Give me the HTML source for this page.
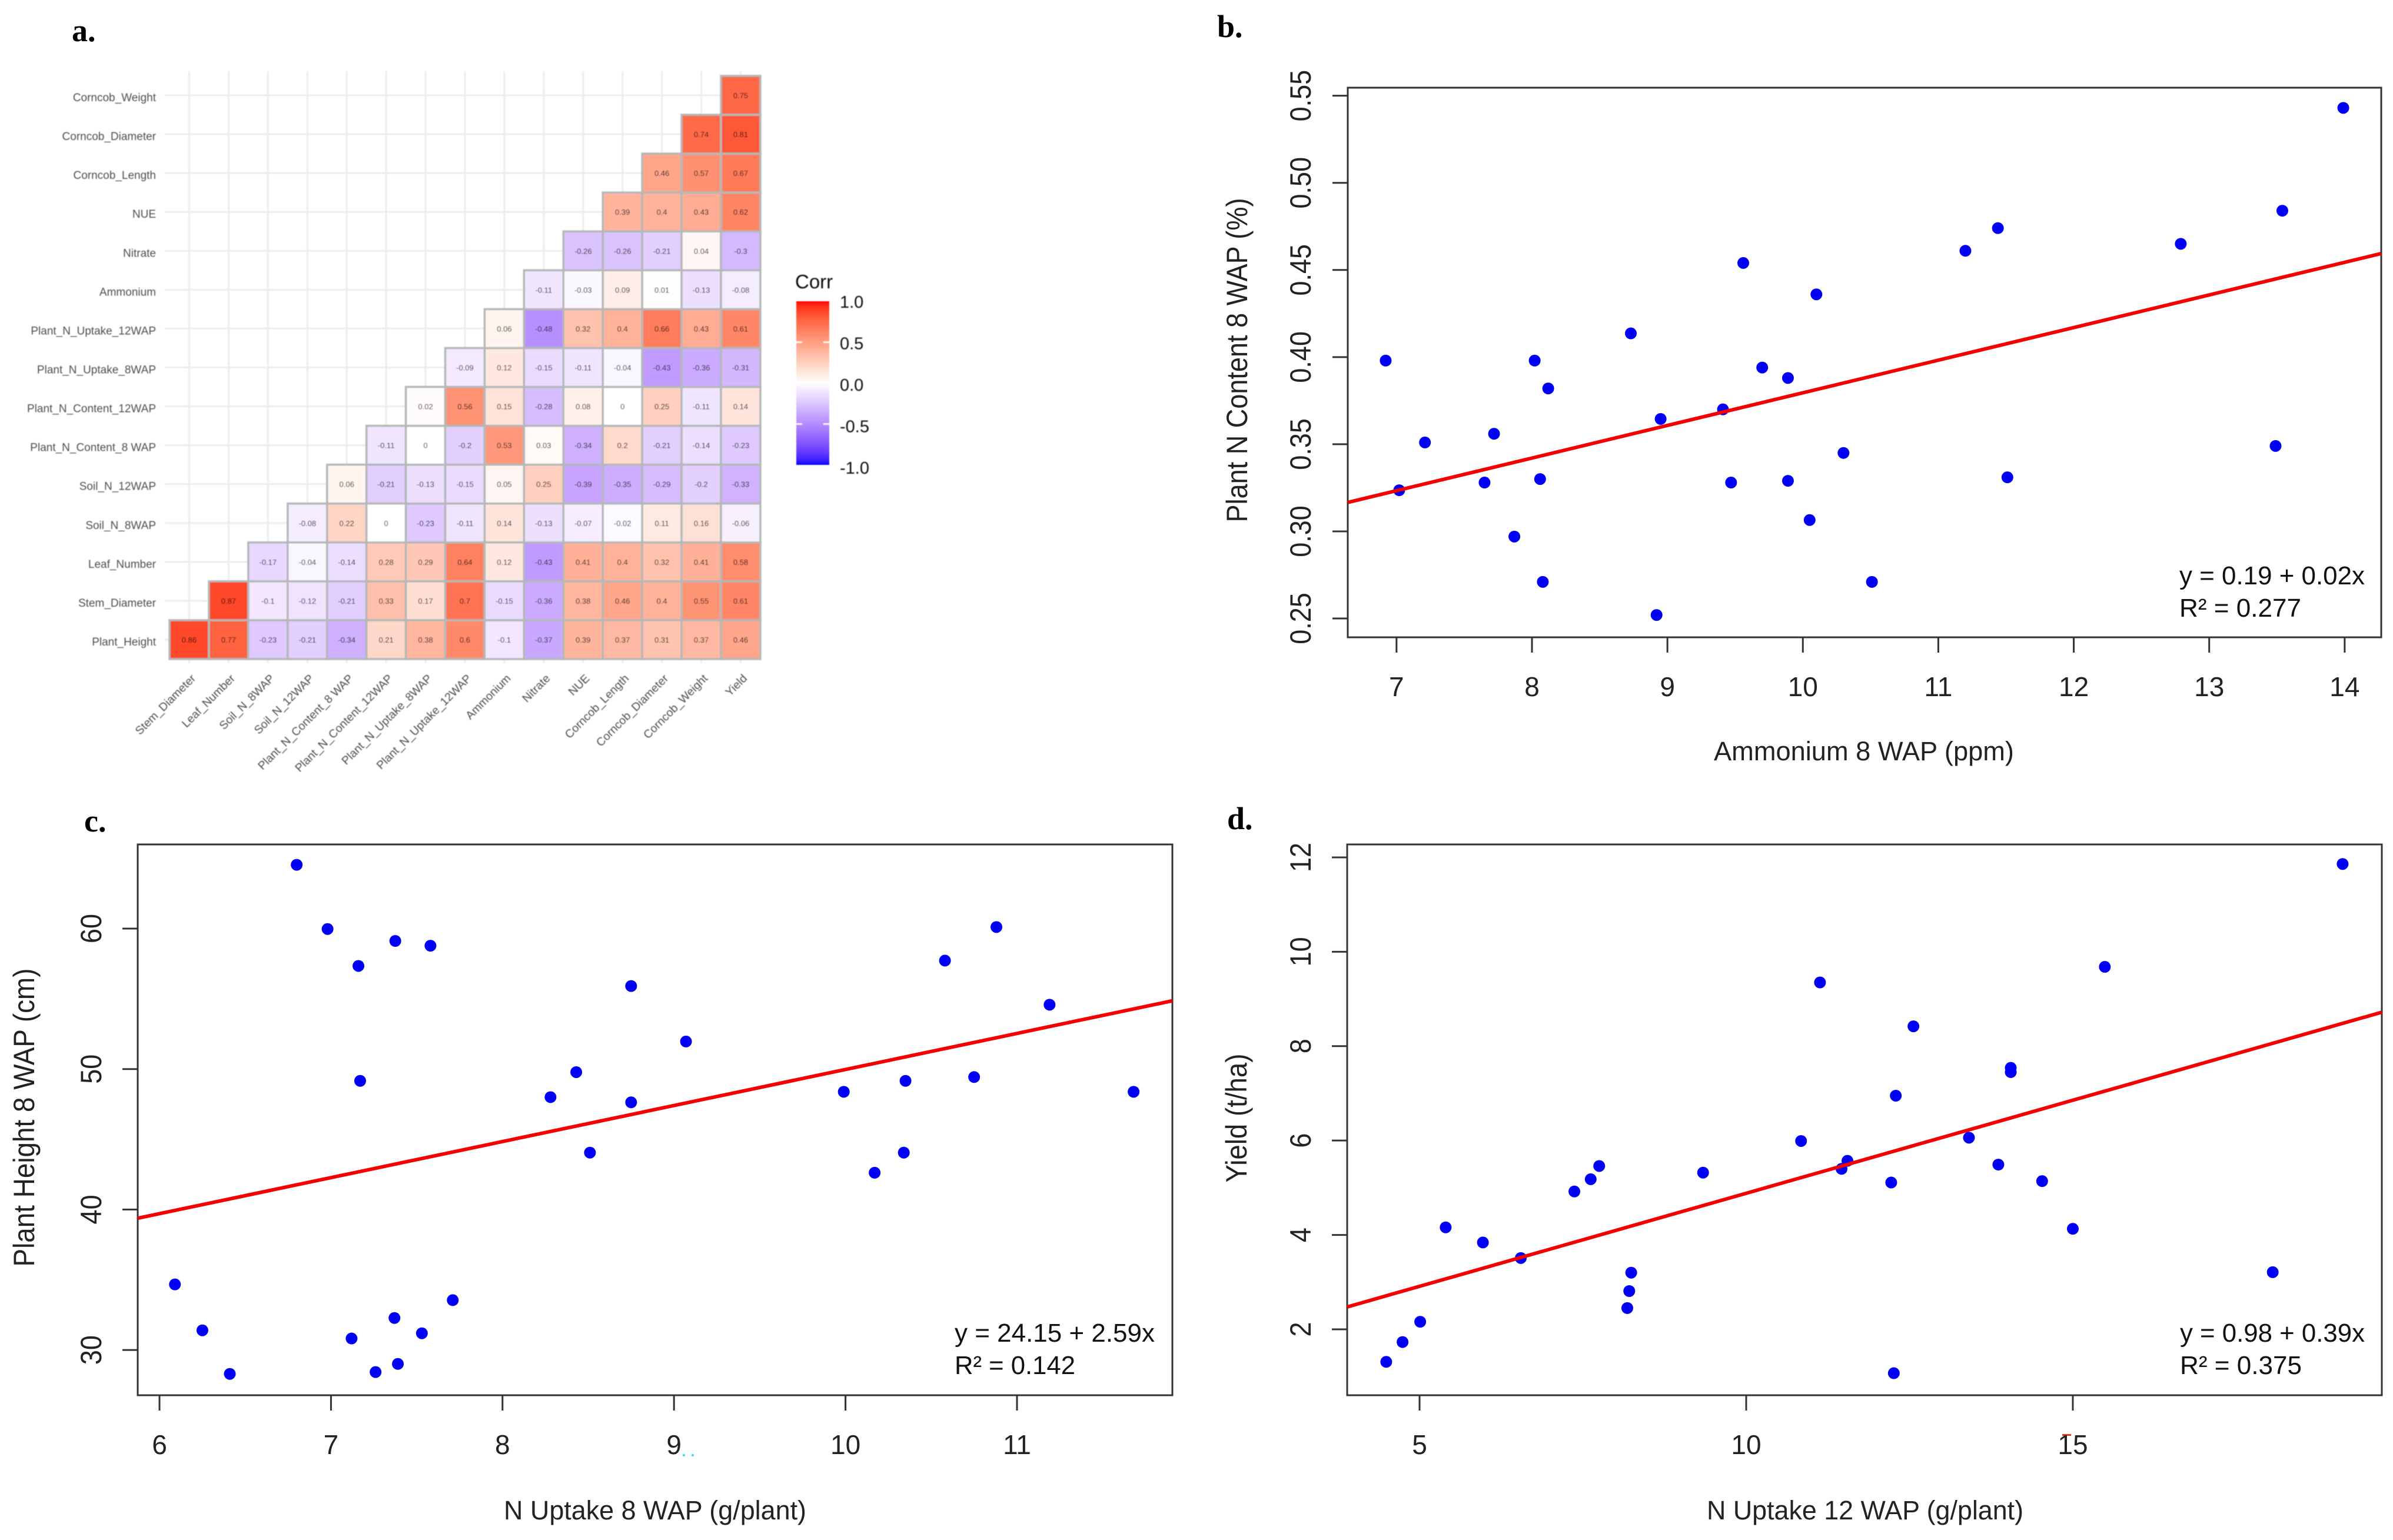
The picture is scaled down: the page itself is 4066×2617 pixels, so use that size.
<!DOCTYPE html>
<html lang="en">
<head>
<meta charset="utf-8">
<title>Correlation heatmap and regression scatter plots</title>
<style>
html,body{margin:0;padding:0;background:#fff;width:4066px;height:2617px;overflow:hidden}
svg{display:block}
text{font-family:"Liberation Sans",sans-serif}
</style>
</head>
<body>
<svg id="figure" xmlns="http://www.w3.org/2000/svg" width="4066" height="2617" viewBox="0 0 4066 2617">
<defs><filter id="soft" x="-2%" y="-2%" width="104%" height="104%"><feGaussianBlur stdDeviation="0.8"/></filter></defs>
<rect width="4066" height="2617" fill="#ffffff"/>
<text x="122" y="70" font-size="54" font-weight="bold" style="font-family:'Liberation Serif',serif">a.</text>
<text x="2068" y="63" font-size="54" font-weight="bold" style="font-family:'Liberation Serif',serif">b.</text>
<text x="143" y="1413" font-size="54" font-weight="bold" style="font-family:'Liberation Serif',serif">c.</text>
<text x="2085" y="1409" font-size="54" font-weight="bold" style="font-family:'Liberation Serif',serif">d.</text>
<circle cx="1162" cy="2473" r="2" fill="#30e0e8"/>
<circle cx="1177" cy="2473" r="2" fill="#30e0e8"/>
<rect x="3504" y="2437" width="15" height="3" fill="#f03020"/>
</svg>
<script>
// ---------- Heatmap data ----------
const corrRowNames = ["Plant_Height","Stem_Diameter","Leaf_Number","Soil_N_8WAP","Soil_N_12WAP","Plant_N_Content_8 WAP","Plant_N_Content_12WAP","Plant_N_Uptake_8WAP","Plant_N_Uptake_12WAP","Ammonium","Nitrate","NUE","Corncob_Length","Corncob_Diameter","Corncob_Weight"];
const corrColNames = ["Stem_Diameter","Leaf_Number","Soil_N_8WAP","Soil_N_12WAP","Plant_N_Content_8 WAP","Plant_N_Content_12WAP","Plant_N_Uptake_8WAP","Plant_N_Uptake_12WAP","Ammonium","Nitrate","NUE","Corncob_Length","Corncob_Diameter","Corncob_Weight","Yield"];
const corrValues = [
 [0.86,0.77,-0.23,-0.21,-0.34,0.21,0.38,0.6,-0.1,-0.37,0.39,0.37,0.31,0.37,0.46],
 [0.87,-0.1,-0.12,-0.21,0.33,0.17,0.7,-0.15,-0.36,0.38,0.46,0.4,0.55,0.61],
 [-0.17,-0.04,-0.14,0.28,0.29,0.64,0.12,-0.43,0.41,0.4,0.32,0.41,0.58],
 [-0.08,0.22,0,-0.23,-0.11,0.14,-0.13,-0.07,-0.02,0.11,0.16,-0.06],
 [0.06,-0.21,-0.13,-0.15,0.05,0.25,-0.39,-0.35,-0.29,-0.2,-0.33],
 [-0.11,0,-0.2,0.53,0.03,-0.34,0.2,-0.21,-0.14,-0.23],
 [0.02,0.56,0.15,-0.28,0.08,0,0.25,-0.11,0.14],
 [-0.09,0.12,-0.15,-0.11,-0.04,-0.43,-0.36,-0.31],
 [0.06,-0.48,0.32,0.4,0.66,0.43,0.61],
 [-0.11,-0.03,0.09,0.01,-0.13,-0.08],
 [-0.26,-0.26,-0.21,0.04,-0.3],
 [0.39,0.4,0.43,0.62],
 [0.46,0.57,0.67],
 [0.74,0.81],
 [0.75]
];
const legendTicks = ["1.0","0.5","0.0","-0.5","-1.0"];

// ---------- Panel b data ----------
const bX = [6.92,7.02,7.21,7.65,7.72,7.87,8.02,8.06,8.08,8.12,8.73,8.92,8.95,9.41,9.47,9.56,9.70,9.89,9.89,10.05,10.10,10.30,10.51,11.20,11.44,11.51,12.79,13.49,13.54,13.99];
const bY = [0.398,0.3236,0.351,0.328,0.356,0.297,0.398,0.330,0.271,0.382,0.4136,0.252,0.3645,0.370,0.328,0.454,0.394,0.388,0.329,0.3065,0.436,0.345,0.271,0.461,0.474,0.331,0.465,0.349,0.484,0.543];
const bXTicks = ["7","8","9","10","11","12","13","14"];
const bYTicks = ["0.25","0.30","0.35","0.40","0.45","0.50","0.55"];
const bFit = [0.1923,0.01872];
const bXRange = [6.64,14.27];
const bYRange = [0.2392,0.5546];

// ---------- Panel c data ----------
const cX = [6.09,6.25,6.41,6.80,6.98,7.12,7.16,7.17,7.26,7.37,7.375,7.39,7.53,7.58,7.71,8.28,8.43,8.51,8.75,8.75,9.07,9.99,10.17,10.34,10.35,10.58,10.75,10.88,11.19,11.68];
const cY = [34.67,31.40,28.30,64.54,59.97,30.82,57.34,49.16,28.43,32.28,59.12,29.01,31.19,58.78,33.55,48.0,49.78,44.05,55.91,47.63,51.96,48.38,42.62,44.05,49.16,57.72,49.43,60.11,54.58,48.38];
const cXTicks = ["6","7","8","9","10","11"];
const cYTicks = ["30","40","50","60"];
const cFit = [24.31,2.566];
const cXRange = [5.873,11.906];
const cYRange = [26.78,65.99];

// ---------- Panel d data ----------
const dX = [4.49,4.74,5.01,5.40,5.97,6.55,7.37,7.62,7.75,8.18,8.21,8.24,9.34,10.84,11.13,11.46,11.55,12.22,12.26,12.29,12.56,13.41,13.86,14.05,14.05,14.53,15.0,15.49,18.06,19.13];
const dY = [1.31,1.73,2.16,4.16,3.84,3.51,4.92,5.18,5.46,2.45,2.81,3.20,5.32,5.99,9.35,5.40,5.57,5.11,1.07,6.95,8.42,6.06,5.49,7.54,7.45,5.14,4.13,9.68,3.21,11.86];
const dXTicks = ["5","10","15"];
const dYTicks = ["2","4","6","8","10","12"];
const dFit = [0.9393,0.3943];
const dXRange = [3.892,19.73];
const dYRange = [0.603,12.274];

// ---------- Helpers ----------
const NS = "http://www.w3.org/2000/svg";
const root = document.getElementById("figure");
function mk(tag, attrs, parent, txt) {
  const el = document.createElementNS(NS, tag);
  for (const k in attrs) el.setAttribute(k, attrs[k]);
  if (txt !== undefined) el.textContent = txt;
  (parent || root).appendChild(el);
  return el;
}
function labToHex(L, a, b) {
  const fy = (L + 16) / 116, fx = fy + a / 500, fz = fy - b / 200;
  const g = t => t > 6 / 29 ? t * t * t : 3 * (6 / 29) * (6 / 29) * (t - 4 / 29);
  const X = 0.95047 * g(fx), Y = g(fy), Z = 1.08883 * g(fz);
  const lin = [3.2406 * X - 1.5372 * Y - 0.4986 * Z, -0.9689 * X + 1.8758 * Y + 0.0415 * Z, 0.0557 * X - 0.204 * Y + 1.057 * Z];
  return "#" + lin.map(c => {
    c = Math.max(0, Math.min(1, c));
    const s = c <= 0.0031308 ? 12.92 * c : 1.055 * Math.pow(c, 1 / 2.4) - 0.055;
    return Math.round(s * 255).toString(16).padStart(2, "0");
  }).join("");
}
function corrColor(v) {
  const t = Math.abs(v);
  const end = v >= 0 ? [53.24, 80.09, 67.2] : [32.3, 79.19, -107.86];
  return labToHex(100 + (end[0] - 100) * t, end[1] * t, end[2] * t);
}

// ---------- Heatmap ----------
const hm = { left: 288, bottom: 1120, cw: 66.93, ch: 66.07 };
const hmX = c => hm.left + (c + 0.5) * hm.cw;
const hmY = r => hm.bottom - (r + 0.5) * hm.ch;
const heat = mk("g", { filter: "url(#soft)" });


corrColNames.forEach((name, c) => {
  const line = mk("line", { x1: hmX(c), x2: hmX(c), y1: 121, y2: 1127, stroke: "#ececec", "stroke-width": 3 }, heat);
  
  
  const x = hmX(c) + 12, y = 1154;
  const t = mk("text", { x: 0, y: 0, transform: `translate(${x},${y}) rotate(-45)`, "text-anchor": "end", "font-size": 19.5, fill: "#4d4d4d" }, heat, name);
  
  
});
corrRowNames.forEach((name, r) => {
  const line = mk("line", { x1: 280, x2: 1293, y1: hmY(r), y2: hmY(r), stroke: "#ececec", "stroke-width": 3 }, heat);
  
  
  const t = mk("text", { x: 265, y: hmY(r) + 10, "text-anchor": "end", "font-size": 19, fill: "#4d4d4d" }, heat, name);
  
  
});
corrValues.forEach((row, r) => {
  row.forEach((v, i) => {
    const c = r + i;
    const cell = mk("rect", { x: hm.left + c * hm.cw, y: hm.bottom - (r + 1) * hm.ch, width: hm.cw, height: hm.ch, fill: corrColor(v), stroke: "#b4b8b8", "stroke-width": 3.5 }, heat);
    
    
  });
});
corrValues.forEach((row, r) => {
  row.forEach((v, i) => {
    const c = r + i;
    const t = mk("text", { x: hmX(c), y: hmY(r) + 5, "text-anchor": "middle", "font-size": 13, fill: "#000" }, heat, String(v));
    
    
  });
});

// ---------- Colour legend ----------
const legend = mk("g", { filter: "url(#soft)" });


const defs = mk("defs", {}, legend);
const grad = mk("linearGradient", { id: "corrGrad", x1: 0, y1: 0, x2: 0, y2: 1 }, defs);
for (let i = 0; i <= 40; i++) {
  mk("stop", { offset: i / 40, "stop-color": corrColor(1 - i / 20) }, grad);
}
const legendTitle = mk("text", { x: 1351, y: 490, "font-size": 33, fill: "#111" }, legend, "Corr");


const legendBar = mk("rect", { x: 1353, y: 512, width: 56, height: 278, fill: "url(#corrGrad)" }, legend);


legendTicks.forEach(lab => {
  const v = Number(lab);
  const py = 651 - v * 139;
  if (Math.abs(v) === 0.5) {
    [[1353, 1363], [1399, 1409]].forEach(p => {
      const tk = mk("line", { x1: p[0], x2: p[1], y1: py, y2: py, stroke: "#fff", "stroke-width": 2.5 }, legend);
      
      
    });
  }
  const t = mk("text", { x: 1427, y: 651 - v * 141 + 13, "font-size": 29, fill: "#111" }, legend, lab);
  
  
});

// ---------- Scatter panels ----------
function drawScatter(cfg) {
  const g = mk("g", {});
  
  
  const sx = v => cfg.left + (v - cfg.xRange[0]) / (cfg.xRange[1] - cfg.xRange[0]) * (cfg.right - cfg.left);
  const sy = v => cfg.bottom - (v - cfg.yRange[0]) / (cfg.yRange[1] - cfg.yRange[0]) * (cfg.bottom - cfg.top);
  const frame = mk("rect", { x: cfg.left, y: cfg.top, width: cfg.right - cfg.left, height: cfg.bottom - cfg.top, fill: "#fff", stroke: "#333", "stroke-width": 3 }, g);
  
  

  cfg.xTicks.forEach(lab => {
    const px = sx(Number(lab));
    const tk = mk("line", { x1: px, x2: px, y1: cfg.bottom, y2: cfg.bottom + 26, stroke: "#333", "stroke-width": 3 }, g);
    
    
    const t = mk("text", { x: px, y: cfg.bottom + 100, "text-anchor": "middle", "font-size": 46, fill: "#222" }, g, lab);
    
    
  });
  cfg.yTicks.forEach(lab => {
    const py = sy(Number(lab));
    const tk = mk("line", { x1: cfg.left - 26, x2: cfg.left, y1: py, y2: py, stroke: "#333", "stroke-width": 3 }, g);
    
    
    const t = mk("text", { x: 0, y: 0, transform: `translate(${cfg.yLabelX},${py}) rotate(-90) scale(1,1.12)`, "text-anchor": "middle", "font-size": 45, fill: "#222" }, g, lab);
    
    
  });

  const xTitle = mk("text", { x: cfg.xTitleX, y: cfg.xTitleY, "text-anchor": "middle", "font-size": 45, fill: "#222", textLength: cfg.xTitleLen, lengthAdjust: "spacingAndGlyphs" }, g, cfg.xTitle);
  
  
  const yTitle = mk("text", { x: 0, y: 0, transform: `translate(${cfg.yTitleX},${cfg.yTitleY}) rotate(-90) scale(1,1.12)`, "text-anchor": "middle", "font-size": 45, fill: "#222", textLength: cfg.yTitleLen, lengthAdjust: "spacingAndGlyphs" }, g, cfg.yTitle);
  
  

  cfg.xs.forEach((v, i) => {
    const pt = mk("ellipse", { cx: sx(v), cy: sy(cfg.ys[i]), rx: 10, ry: 10, fill: "#0000f5" }, g);
    
    
  });
  const x0 = cfg.xRange[0], x1 = cfg.xRange[1];
  const fit = mk("line", { x1: sx(x0), y1: sy(cfg.fit[0] + cfg.fit[1] * x0), x2: sx(x1), y2: sy(cfg.fit[0] + cfg.fit[1] * x1), stroke: "#f40000", "stroke-width": 6 }, g);
  
  

  const eq = mk("text", { x: cfg.noteX, y: cfg.noteY, "font-size": 44, fill: "#111", textLength: cfg.eqLen, lengthAdjust: "spacingAndGlyphs" }, g, cfg.eq);
  
  
  const r2 = mk("text", { x: cfg.noteX, y: cfg.noteY + 55, "font-size": 44, fill: "#111", textLength: cfg.r2Len, lengthAdjust: "spacingAndGlyphs" }, g, cfg.r2);
  
  
}

drawScatter({
  name: "scatter-panel-b", xs: bX, ys: bY, xTicks: bXTicks, yTicks: bYTicks, fit: bFit, xRange: bXRange, yRange: bYRange,
  left: 2290, right: 4046, top: 149, bottom: 1083, yLabelX: 2227,
  xTitle: "Ammonium 8 WAP (ppm)", xTitleX: 3167, xTitleY: 1292, xTitleLen: 510,
  yTitle: "Plant N Content 8 WAP (%)", yTitleX: 2119, yTitleY: 612, yTitleLen: 551,
  eq: "y = 0.19 + 0.02x", r2: "R\u00B2 = 0.277", noteX: 3703, noteY: 993, eqLen: 315, r2Len: 207
});
drawScatter({
  name: "scatter-panel-c", xs: cX, ys: cY, xTicks: cXTicks, yTicks: cYTicks, fit: cFit, xRange: cXRange, yRange: cYRange,
  left: 234, right: 1992, top: 1435, bottom: 2371, yLabelX: 172,
  xTitle: "N Uptake 8 WAP (g/plant)", xTitleX: 1113, xTitleY: 2582, xTitleLen: 514,
  yTitle: "Plant Height 8 WAP (cm)", yTitleX: 58, yTitleY: 1899, yTitleLen: 507,
  eq: "y = 24.15 + 2.59x", r2: "R\u00B2 = 0.142", noteX: 1622, noteY: 2280, eqLen: 340, r2Len: 205
});
drawScatter({
  name: "scatter-panel-d", xs: dX, ys: dY, xTicks: dXTicks, yTicks: dYTicks, fit: dFit, xRange: dXRange, yRange: dYRange,
  left: 2289, right: 4047, top: 1435, bottom: 2371, yLabelX: 2227,
  xTitle: "N Uptake 12 WAP (g/plant)", xTitleX: 3169, xTitleY: 2582, xTitleLen: 538,
  yTitle: "Yield (t/ha)", yTitleX: 2118, yTitleY: 1900, yTitleLen: 219,
  eq: "y = 0.98 + 0.39x", r2: "R\u00B2 = 0.375", noteX: 3704, noteY: 2280, eqLen: 314, r2Len: 207
});
</script>
</body>
</html>
